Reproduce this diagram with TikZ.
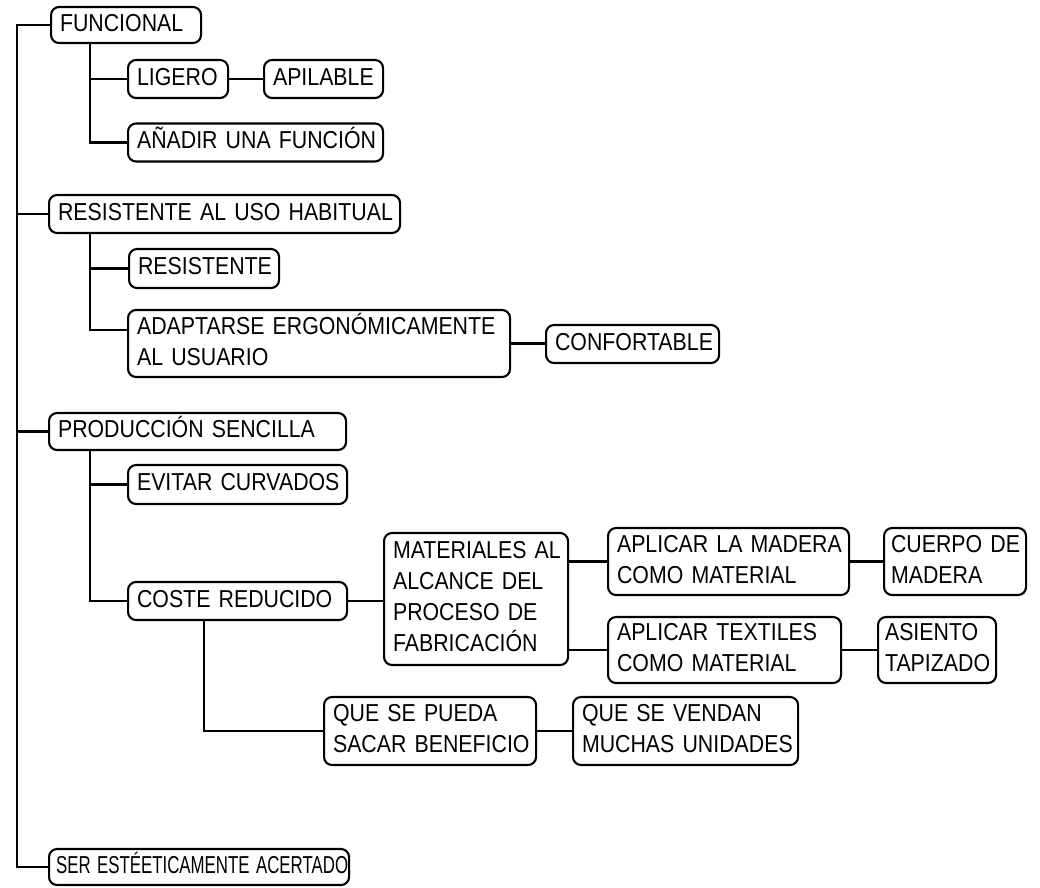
\documentclass[tikz,border=0pt]{standalone}
\usepackage{graphicx}
\usepackage{fontspec}
\setmainfont{Liberation Sans}[FakeStretch=0.87]
% one unbreakable block of left-aligned lines
\newcommand{\lines}[1]{\begin{tabular}{@{}l@{}}#1\end{tabular}}
\begin{document}
\begin{tikzpicture}[x=1pt,y=-1pt,
  box/.style={draw, line width=2.1pt, rounded corners=8pt, fill=white,
    anchor=west, inner xsep=9pt, inner ysep=2pt, align=left,
    font=\fontsize{24.5}{31}\selectfont},
  link/.style={line width=2.1pt}]
\useasboundingbox[fill=white] (0,0) rectangle (1040,887);

% level 1
\node[box, text width=132pt, minimum height=36pt] (fun) at (50,25) {\lines{FUNCIONAL}};
\node[box, text width=333pt, minimum height=38pt] (uso) at (48,214) {\lines{RESISTENTE AL USO HABITUAL}};
\node[box, text width=279pt, minimum height=37pt] (prod) at (48,431.5) {\lines{PRODUCCIÓN SENCILLA}};
\node[box, text width=286pt, minimum height=36pt, inner xsep=7pt] (ser) at (48,867) {\scalebox{0.79}[1]{\lines{SER ESTÉETICAMENTE ACERTADO}}};

% under FUNCIONAL
\node[box, text width=82pt, minimum height=38pt] (lig) at (127,79) {\lines{LIGERO}};
\node[box, text width=101pt, minimum height=38pt] (api) at (263,79) {\lines{APILABLE}};
\node[box, text width=237pt, minimum height=38pt] (anad) at (127,142.5) {\lines{AÑADIR UNA FUNCIÓN}};

% under RESISTENTE AL USO HABITUAL
\node[box, text width=132pt, minimum height=39pt] (resi) at (128,268.5) {\lines{RESISTENTE}};
\node[box, text width=364pt, minimum height=67pt] (adap) at (127,343.5) {\lines{ADAPTARSE ERGONÓMICAMENTE\\AL USUARIO}};
\node[box, text width=155pt, minimum height=38pt] (conf) at (545,344) {\lines{CONFORTABLE}};

% under PRODUCCIÓN SENCILLA
\node[box, text width=201pt, minimum height=39pt] (evit) at (127,484.5) {\lines{EVITAR CURVADOS}};
\node[box, text width=201pt, minimum height=38pt] (coste) at (127,601) {\lines{COSTE REDUCIDO}};
\node[box, text width=166pt, minimum height=132pt] (mat) at (383,599) {\lines{MATERIALES AL\\ALCANCE DEL\\PROCESO DE\\FABRICACIÓN}};
\node[box, text width=223pt, minimum height=67pt] (mad) at (607,561.5) {\lines{APLICAR LA MADERA\\COMO MATERIAL}};
\node[box, text width=128pt, minimum height=67pt, inner xsep=7pt] (cuer) at (883,561.5) {\lines{CUERPO DE\\MADERA}};
\node[box, text width=104pt, minimum height=66pt, inner xsep=7pt] (asi) at (877,650) {\lines{ASIENTO\\TAPIZADO}};
\node[box, text width=215pt, minimum height=66pt] (tex) at (607,650) {\lines{APLICAR TEXTILES\\COMO MATERIAL}};
\node[box, text width=194pt, minimum height=68pt] (ben) at (323,731) {\lines{QUE SE PUEDA\\SACAR BENEFICIO}};
\node[box, text width=207pt, minimum height=68pt] (ven) at (572,731) {\lines{QUE SE VENDAN\\MUCHAS UNIDADES}};

% trunk
\coordinate (rt) at (17,25);
\draw[link] (fun.west) -- (rt) |- (ser.west);
\draw[link] (rt |- uso.west) -- (uso.west);
\draw[link] (rt |- prod.west) -- (prod.west);

% FUNCIONAL branch
\coordinate (b1) at ([xshift=40pt]fun.south west);
\draw[link] (b1) |- (anad.west);
\draw[link] (b1 |- lig.west) -- (lig.west);
\draw[link] (lig.east) -- (api.west);

% RESISTENTE AL USO HABITUAL branch
\coordinate (b2) at ([xshift=42pt]uso.south west);
\coordinate (adin) at ([yshift=13.5pt]adap.west);
\draw[link] (b2) |- (adin);
\draw[link] (b2 |- resi.west) -- (resi.west);
\draw[link] (adap.east) -- (adap.east -| conf.west);

% PRODUCCIÓN SENCILLA branch
\coordinate (b3) at ([xshift=42pt]prod.south west);
\draw[link] (b3) |- (coste.west);
\draw[link] (b3 |- evit.west) -- (evit.west);
\draw[link] (coste.east) -- (coste.east -| mat.west);
\draw[link] (mat.east |- mad.west) -- (mad.west);
\draw[link] (mat.east |- tex.west) -- (tex.west);
\draw[link] (mad.east) -- (cuer.west);
\draw[link] (tex.east) -- (asi.west);
\coordinate (b4) at ([xshift=77pt]coste.south west);
\draw[link] (b4) |- (ben.west);
\draw[link] (ben.east) -- (ven.west);
\end{tikzpicture}
\end{document}
